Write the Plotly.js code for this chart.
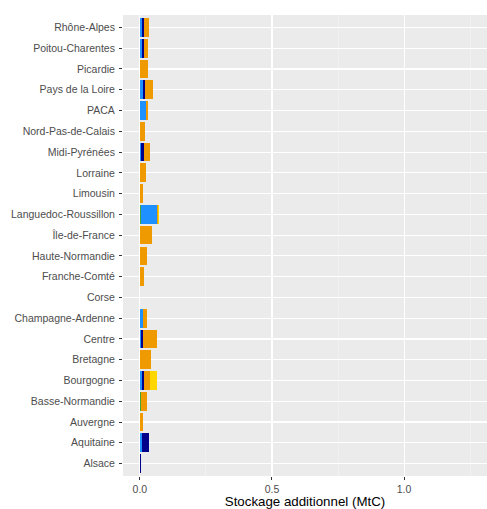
<!DOCTYPE html>
<html>
<head>
<meta charset="utf-8">
<script src="https://cdn.plot.ly/plotly-3.0.1.min.js"></script>
<style>html,body{margin:0;padding:0;background:#fff}#chart{width:487px;height:509px}</style>
</head>
<body>
<div id="chart"></div>
<script>
const regions = ["Alsace","Aquitaine","Auvergne","Basse-Normandie","Bourgogne","Bretagne","Centre","Champagne-Ardenne","Corse","Franche-Comté","Haute-Normandie","Île-de-France","Languedoc-Roussillon","Limousin","Lorraine","Midi-Pyrénées","Nord-Pas-de-Calais","PACA","Pays de la Loire","Picardie","Poitou-Charentes","Rhône-Alpes"];

const seriesGreen     = [0,     0,     0,     0.006, 0,     0,     0,     0,     0, 0,     0,     0,     0.003, 0,     0,     0,     0,     0,     0,     0,     0,     0];
const seriesLightBlue = [0.001, 0.008, 0,     0,     0.008, 0,     0.005, 0.010, 0, 0,     0,     0,     0.062, 0,     0,     0.005, 0,     0.023, 0.010, 0,     0.009, 0.009];
const seriesNavy      = [0.004, 0.027, 0,     0,     0.008, 0,     0.008, 0,     0, 0,     0,     0,     0,     0,     0,     0.009, 0,     0,     0.008, 0,     0.005, 0.008];
const seriesOrange    = [0,     0,     0.013, 0.019, 0.023, 0.043, 0.050, 0.015, 0, 0.015, 0.028, 0.044, 0.002, 0.011, 0.024, 0.024, 0.021, 0.006, 0.030, 0.029, 0.016, 0.016];
const seriesYellow    = [0,     0,     0,     0,     0.025, 0,     0,     0,     0, 0,     0,     0,     0.006, 0,     0,     0,     0,     0,     0,     0,     0,     0];

const seriesNames  = ["Série 1","Série 2","Série 3","Série 4","Série 5"];
const seriesValues = [seriesGreen, seriesLightBlue, seriesNavy, seriesOrange, seriesYellow];
const seriesColors = ["#3FA535","#1E90FF","#00008B","#EE9A00","#FFD700"];

const xTickVals = [0, 0.5, 1.0];
const xTickText = ["0.0", "0.5", "1.0"];

const traces = seriesValues.map((vals, i) => ({
  type: "bar",
  orientation: "h",
  y: regions,
  x: vals,
  name: seriesNames[i],
  width: 0.9,
  marker: {color: seriesColors[i], line: {width: 0}},
  showlegend: false,
  hoverinfo: "x+y+name"
}));

const layout = {
  width: 487,
  height: 509,
  barmode: "stack",
  bargap: 0.1,
  margin: {l: 123, r: 0, t: 15, b: 33, pad: 0},
  paper_bgcolor: "#ffffff",
  plot_bgcolor: "#EBEBEB",
  font: {family: "Liberation Sans, Arial, sans-serif", size: 10.5, color: "#4D4D4D"},
  xaxis: {
    range: [-0.064, 1.314],
    tickvals: xTickVals,
    ticktext: xTickText,
    ticks: "outside",
    ticklen: 3,
    tickcolor: "#333333",
    tickwidth: 1,
    showgrid: true,
    gridcolor: "#FFFFFF",
    gridwidth: 1.1,
    minor: {tickvals: [0.25, 0.75, 1.25], showgrid: true, gridcolor: "#F5F5F5", gridwidth: 0.6, ticks: ""},
    zeroline: false,
    showline: false,
    tickfont: {size: 10.5, color: "#4D4D4D"},
    title: {text: "Stockage additionnel (MtC)", font: {size: 13.3, color: "#000000"}, standoff: 4}
  },
  yaxis: {
    type: "category",
    categoryorder: "array",
    categoryarray: regions,
    range: [-0.6, 21.6],
    ticks: "outside",
    ticklen: 3,
    tickcolor: "#333333",
    tickwidth: 1,
    showgrid: true,
    gridcolor: "#FFFFFF",
    gridwidth: 1.1,
    zeroline: false,
    showline: false,
    ticklabelstandoff: 2,
    tickfont: {size: 10.5, color: "#4D4D4D"}
  }
};

Plotly.newPlot("chart", traces, layout, {displayModeBar: false, staticPlot: true});
</script>
</body>
</html>
